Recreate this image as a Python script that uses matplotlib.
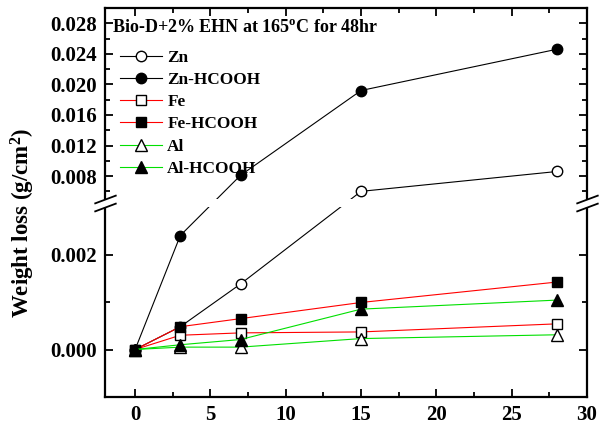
import numpy as np
import matplotlib
matplotlib.use("Agg")
import matplotlib.pyplot as plt
from matplotlib.patches import Rectangle
from matplotlib.ticker import FixedLocator

plt.rcParams['font.family'] = ['Liberation Serif', 'DejaVu Serif']
plt.rcParams['font.weight'] = 'bold'
plt.rcParams['mathtext.fontset'] = 'custom'
plt.rcParams['mathtext.rm'] = 'Liberation Serif:bold'
plt.rcParams['mathtext.it'] = 'Liberation Serif:bold'
plt.rcParams['mathtext.bf'] = 'Liberation Serif:bold'

# data (time in days vs weight loss in g/cm^2)
days = [0, 3, 7, 15, 28]
zn = [0.0, 0.00048, 0.00138, 0.0060, 0.0086]
zn_hcooh = [0.0, 0.0024, 0.0081, 0.0192, 0.0246]
fe = [0.0, 0.00030, 0.00035, 0.00037, 0.00054]
fe_hcooh = [0.0, 0.00048, 0.00065, 0.00099, 0.00142]
al = [0.0, 0.00005, 0.00005, 0.00023, 0.00031]
al_hcooh = [0.0, 0.00010, 0.00021, 0.00085, 0.00104]

title = r"Bio-D+2% EHN at 165$^{\rm o}$C for 48hr"

# broken axis: lower -0.001..0.003, gap, upper 0.005..0.030
yb = [-0.001, 0.003, 0.005, 0.030]
yp = [0.0, 190.0, 198.0, 389.0]

def fwd(y):
    y = np.asarray(y, dtype=float)
    lo = yp[0] + (y - yb[0]) * (yp[1] - yp[0]) / (yb[1] - yb[0])
    mid = yp[1] + (y - yb[1]) * (yp[2] - yp[1]) / (yb[2] - yb[1])
    hi = yp[2] + (y - yb[2]) * (yp[3] - yp[2]) / (yb[3] - yb[2])
    return np.where(y <= yb[1], lo, np.where(y <= yb[2], mid, hi))

def inv(p):
    p = np.asarray(p, dtype=float)
    lo = yb[0] + (p - yp[0]) * (yb[1] - yb[0]) / (yp[1] - yp[0])
    mid = yb[1] + (p - yp[1]) * (yb[2] - yb[1]) / (yp[2] - yp[1])
    hi = yb[2] + (p - yp[2]) * (yb[3] - yb[2]) / (yp[3] - yp[2])
    return np.where(p <= yp[1], lo, np.where(p <= yp[2], mid, hi))

fig = plt.figure(figsize=(6.07, 4.28), dpi=100)
ax = fig.add_axes([105/607, 1 - 397/428, 482/607, 389/428])
ax.set_yscale('function', functions=(fwd, inv))

green = '#00e000'
ms = 7.5
lw = 0.8
ax.plot(days, zn, '-', color='black', lw=lw, marker='o', ms=ms, mfc='white', mec='black', label='Zn')
ax.plot(days, zn_hcooh, '-', color='black', lw=lw, marker='o', ms=ms, mfc='black', mec='black', label='Zn-HCOOH')
ax.plot(days, fe, '-', color='red', lw=lw, marker='s', ms=ms*0.95, mfc='white', mec='black', label='Fe')
ax.plot(days, fe_hcooh, '-', color='red', lw=lw, marker='s', ms=ms*0.95, mfc='black', mec='black', label='Fe-HCOOH')
ax.plot(days, al, '-', color=green, lw=lw, marker='^', ms=ms*1.1, mfc='white', mec='black', label='Al')
ax.plot(days, al_hcooh, '-', color=green, lw=lw, marker='^', ms=ms*1.1, mfc='black', mec='black', label='Al-HCOOH')

ax.set_xlim(-2, 30)
ax.set_ylim(-0.001, 0.030)
ax.set_xticks(range(0, 31, 5))
ax.xaxis.set_minor_locator(FixedLocator(np.arange(-2.5, 30, 2.5)))
ax.yaxis.set_major_locator(FixedLocator([0.0, 0.002, 0.008, 0.012, 0.016, 0.020, 0.024, 0.028]))
ax.yaxis.set_minor_locator(FixedLocator([0.001, 0.006, 0.010, 0.014, 0.018, 0.022, 0.026]))
ax.yaxis.set_major_formatter(plt.FuncFormatter(lambda v, p: f"{v:.3f}"))
ax.tick_params(which='both', direction='in', top=True, right=True, width=1.3)
ax.tick_params(which='major', length=6, labelsize=15, pad=6)
ax.tick_params(which='minor', length=3.5)
for s in ax.spines.values():
    s.set_linewidth(1.6)

ax.set_ylabel("Weight loss (g/cm$^2$)", fontsize=16.5, fontweight='bold')
ax.yaxis.set_label_coords(-0.141, 0.447)

# break: white band over the gap, plus slashes on both spines
tr = ax.get_yaxis_transform()
ax.add_patch(Rectangle((-0.03, yb[1]), 1.06, yb[2] - yb[1], transform=tr,
                       facecolor='white', edgecolor='none', zorder=5, clip_on=False))
for xc in (0.0, 1.0):
    for yc in (yb[1], yb[2]):
        ax.plot([xc], [yc], transform=tr, marker=[(-8, -3), (8, 3)], ms=16,
                color='black', mew=1.3, clip_on=False, zorder=6)

ax.text(0.015, 0.951, title, transform=ax.transAxes, fontsize=13, fontweight='bold',
        ha='left', va='center')

ax.legend(loc='upper left', bbox_to_anchor=(0.031, 0.893), frameon=False, fontsize=12.4,
          handlelength=2.45, handletextpad=0.3, labelspacing=0.36, borderpad=0, borderaxespad=0)

fig.savefig('out.png', dpi=100)
